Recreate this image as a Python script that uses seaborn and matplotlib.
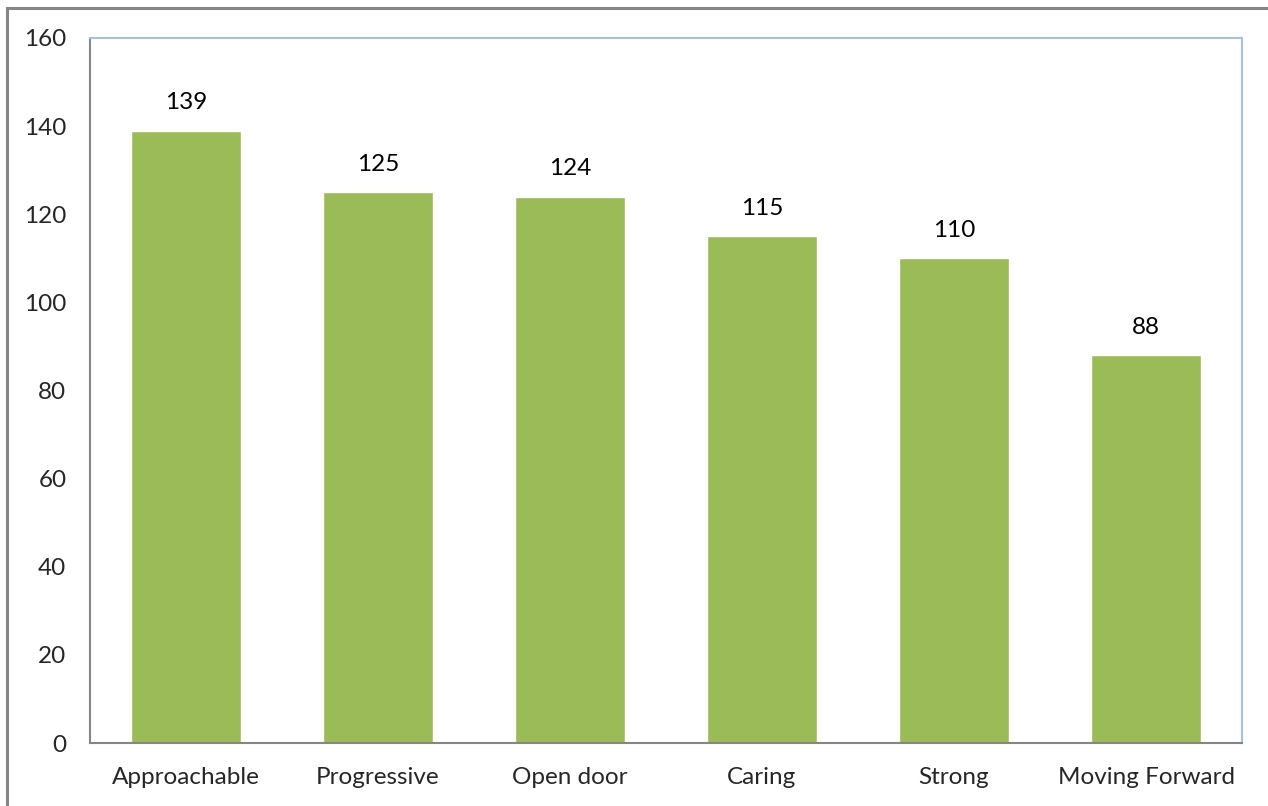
import pandas as pd
import matplotlib.pyplot as plt
import seaborn as sns
from matplotlib.patches import Rectangle

# data
categories = ['Approachable', 'Progressive', 'Open door', 'Caring', 'Strong', 'Moving Forward']
values = [139, 125, 124, 115, 110, 88]
y_ticks = [0, 20, 40, 60, 80, 100, 120, 140, 160]

df = pd.DataFrame({'cat': categories, 'val': values})

sns.set_style('white')
plt.rcParams['font.family'] = ['Lato', 'DejaVu Sans']

fig = plt.figure(figsize=(12.68, 8.06), dpi=100)
ax = fig.add_axes([90 / 1268, 1 - 743 / 806, 1152 / 1268, 705 / 806])

sns.barplot(data=df, x='cat', y='val', color='#9BBB59', saturation=1, width=0.57, ax=ax)

# value labels above bars
for i, v in enumerate(values):
    ax.text(i, v + 4, str(v), ha='center', va='bottom', fontsize=17.5, color='black')

ax.set_ylim(0, 160)
ax.set_xlim(-0.5, len(categories) - 0.5)
ax.set_yticks(y_ticks)
ax.set_yticklabels([str(t) for t in y_ticks], fontsize=17.5)
ax.tick_params(axis='y', length=0, pad=17)
ax.tick_params(axis='x', length=0, pad=17, labelsize=17.5)
ax.set_xlabel('')
ax.set_ylabel('')

for side in ['left', 'bottom']:
    ax.spines[side].set_color('#868686')
    ax.spines[side].set_linewidth(1.5)
for side in ['top', 'right']:
    ax.spines[side].set_visible(True)
    ax.spines[side].set_color('#A7C0E5')
    ax.spines[side].set_linewidth(1.5)

# outer chart border (only top and left visible in the crop)
fig.patches.append(Rectangle((7 / 1268, -0.1), 1.2, 0.1 + 1 - 8 / 806, transform=fig.transFigure,
                             fill=False, edgecolor='#868686', linewidth=2.2))

fig.savefig('out.png', dpi=100)
